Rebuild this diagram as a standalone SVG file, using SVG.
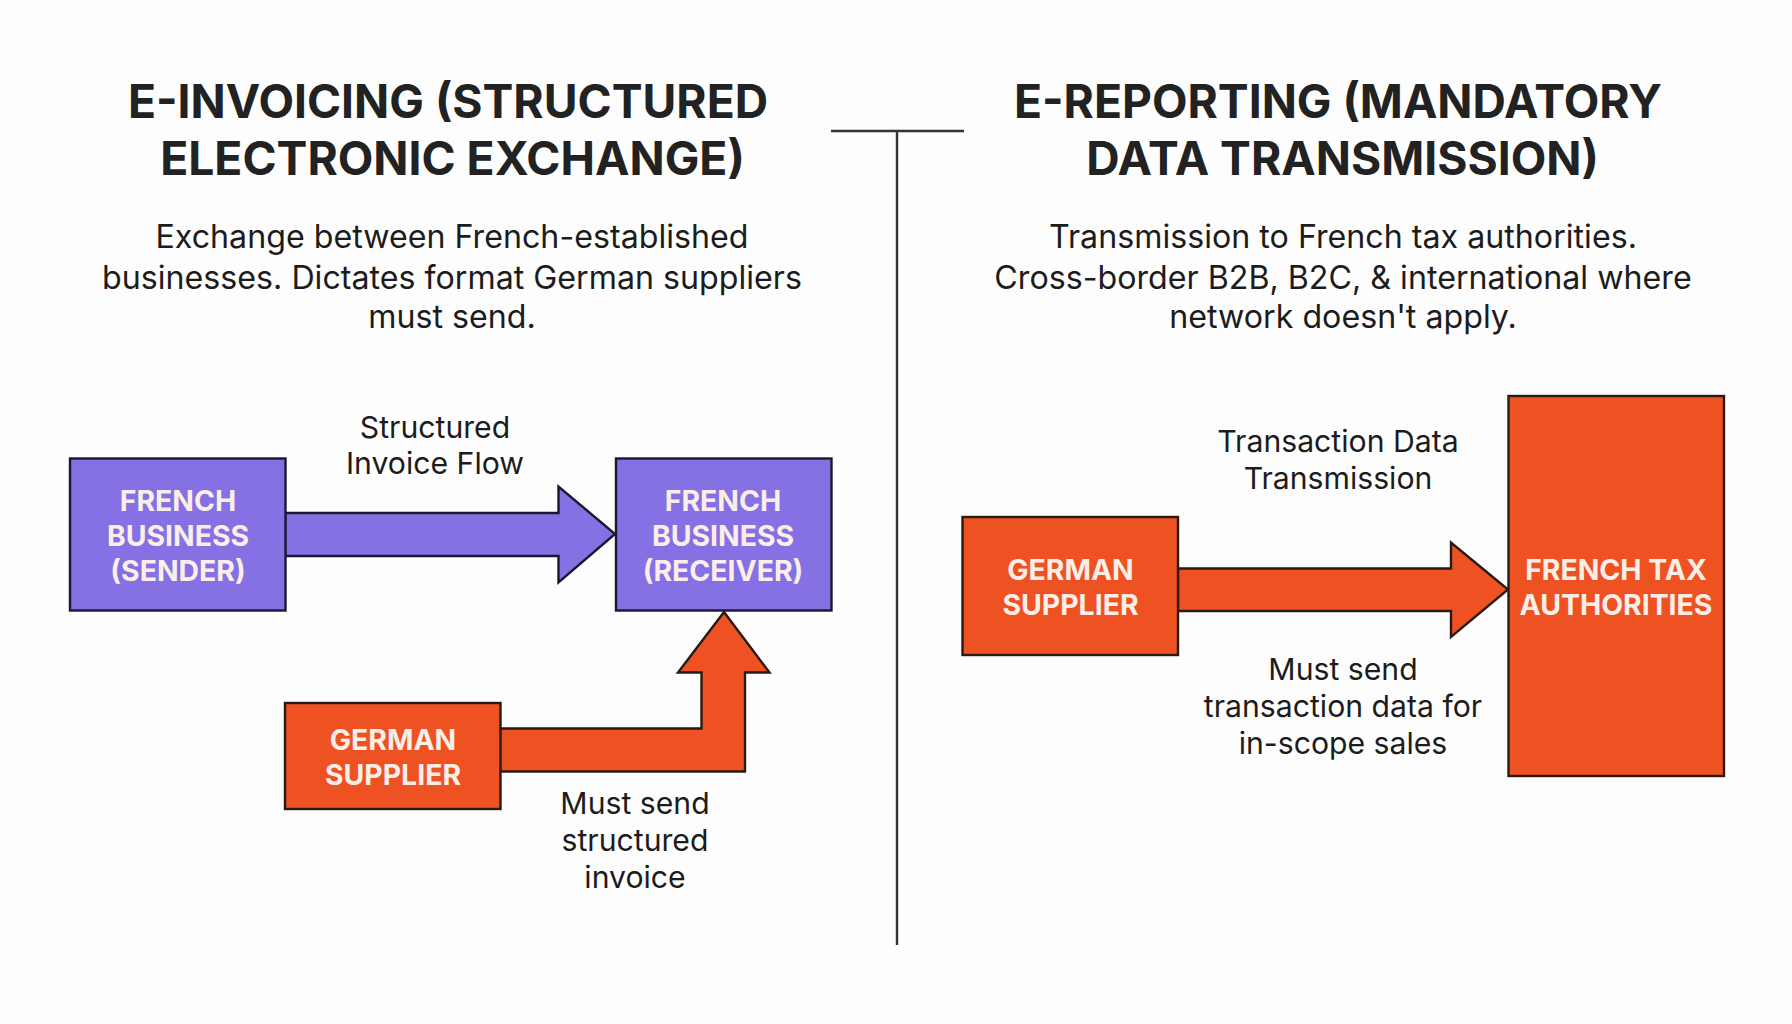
<svg xmlns="http://www.w3.org/2000/svg" width="1792" height="1024" viewBox="0 0 1792 1024">
<style>
text{font-family:Inter,"Liberation Sans",sans-serif;text-anchor:middle}
.t{font-size:46.2px;font-weight:700;fill:#222}
.b{font-size:32.2px;font-weight:400;fill:#1c1c1c}
.l{font-size:30.2px;font-weight:400;fill:#1c1c1c}
.n{font-size:28.4px;font-weight:700;fill:#fbeee8}
.p{fill:#8570e4;stroke:#1a1730;stroke-width:2.4}
.o{fill:#ee5222;stroke:#2a1a14;stroke-width:2.4}
.d{stroke:#333;stroke-width:2.4;fill:none}
</style>
<rect width="1792" height="1024" fill="#fdfdfd"/>
<g id="left-header">
<text class="t" x="448" y="117.5">E-INVOICING (STRUCTURED</text>
<text class="t" x="452.5" y="174.5">ELECTRONIC EXCHANGE)</text>
<text class="b" x="452" y="248">Exchange between French-established</text>
<text class="b" x="452" y="288.5">businesses. Dictates format German suppliers</text>
<text class="b" x="452" y="328">must send.</text>
</g>
<g id="right-header">
<text class="t" x="1338" y="117.5">E-REPORTING (MANDATORY</text>
<text class="t" x="1342.5" y="174.5">DATA TRANSMISSION)</text>
<text class="b" x="1343" y="248">Transmission to French tax authorities.</text>
<text class="b" x="1343" y="288.5">Cross-border B2B, B2C, &amp; international where</text>
<text class="b" x="1343" y="328">network doesn't apply.</text>
</g>
<g id="divider">
<path class="d" d="M831 131H964M897 131V945"/>
</g>
<g id="connectors">
<polygon class="p" points="285,513 558.5,513 558.5,486.5 615,534 558.5,582.5 558.5,556 285,556"/>
<polygon class="o" points="500,728.5 701.5,728.5 701.5,672.5 678,672.5 724,612 769.5,672.5 745,672.5 745,771.5 500,771.5"/>
<polygon class="o" points="1178,568.5 1451,568.5 1451,542.5 1508,589.5 1451,637 1451,611 1178,611"/>
</g>
<g id="edge-labels">
<text class="l" x="435" y="437.5">Structured</text>
<text class="l" x="435" y="474">Invoice Flow</text>
<text class="l" x="635" y="814">Must send</text>
<text class="l" x="635" y="851">structured</text>
<text class="l" x="635" y="888">invoice</text>
<text class="l" x="1338" y="452">Transaction Data</text>
<text class="l" x="1338" y="489">Transmission</text>
<text class="l" x="1343" y="680">Must send</text>
<text class="l" x="1343" y="717">transaction data for</text>
<text class="l" x="1343" y="754">in-scope sales</text>
</g>
<g id="node-sender">
<rect class="p" x="70" y="458.5" width="215.5" height="152"/>
<text class="n" x="178" y="511">FRENCH</text>
<text class="n" x="178" y="546">BUSINESS</text>
<text class="n" x="178" y="581">(SENDER)</text>
</g>
<g id="node-receiver">
<rect class="p" x="616" y="458.5" width="215.5" height="152"/>
<text class="n" x="723" y="511">FRENCH</text>
<text class="n" x="723" y="546">BUSINESS</text>
<text class="n" x="723" y="581">(RECEIVER)</text>
</g>
<g id="node-german-left">
<rect class="o" x="285" y="703" width="215.5" height="106"/>
<text class="n" x="393" y="750">GERMAN</text>
<text class="n" x="393" y="785">SUPPLIER</text>
</g>
<g id="node-german-right">
<rect class="o" x="962.5" y="517" width="215.5" height="138"/>
<text class="n" x="1070.5" y="580">GERMAN</text>
<text class="n" x="1070.5" y="614.5">SUPPLIER</text>
</g>
<g id="node-tax">
<rect class="o" x="1508.5" y="396" width="215.5" height="380"/>
<text class="n" x="1616" y="580">FRENCH TAX</text>
<text class="n" x="1616" y="614.5">AUTHORITIES</text>
</g>
</svg>
